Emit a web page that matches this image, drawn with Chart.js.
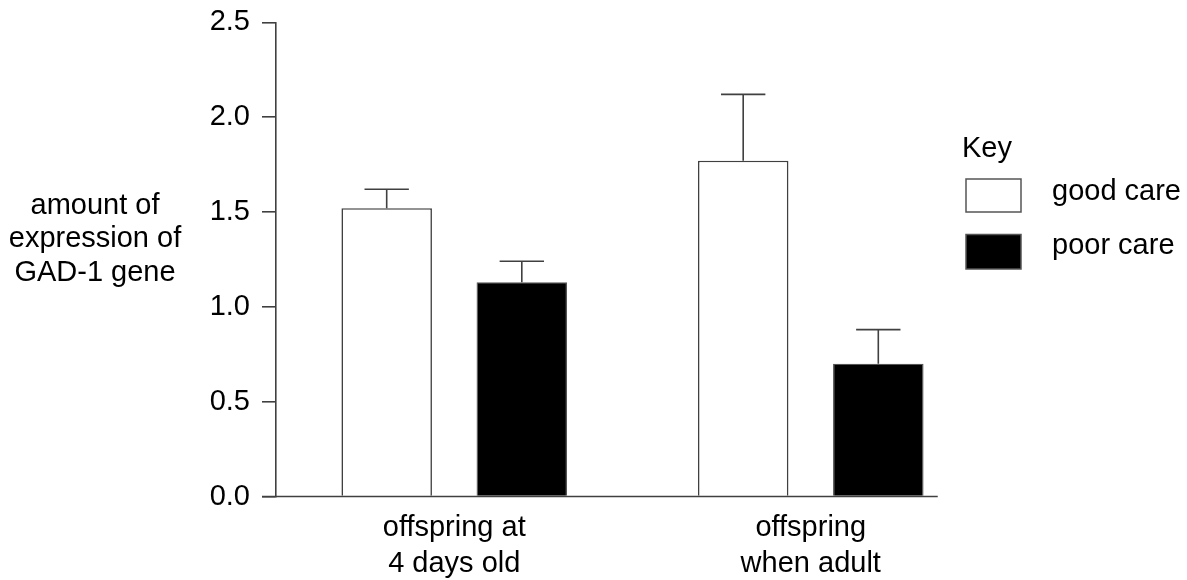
<!DOCTYPE html>
<html>
<head>
<meta charset="utf-8">
<script src="https://cdn.jsdelivr.net/npm/chart.js@4"></script>
<style>
  html, body { margin: 0; padding: 0; background: #fff; }
  #wrap { width: 1187px; height: 580px; }
</style>
</head>
<body>
<div id="wrap"><canvas id="c" width="1187" height="580"></canvas></div>
<script>
// ---- data ----
const categories = [['offspring at', '4 days old'], ['offspring', 'when adult']];
const seriesNames = ['good care', 'poor care'];
const goodCare = [1.52, 1.77];
const poorCare = [1.13, 0.70];
const goodCareErr = [0.10, 0.35];
const poorCareErr = [0.11, 0.18];
const yTicks = [0, 0.5, 1.0, 1.5, 2.0, 2.5];
const yTitleLines = ['amount of', 'expression of', 'GAD-1 gene'];
const legendTitle = 'Key';

const FONT = '"Liberation Sans", Arial, Helvetica, sans-serif';
const FSIZE = 29;
const AXIS = '#404040';

const errorBars = {
  id: 'errorBars',
  afterDatasetsDraw(chart) {
    const ctx = chart.ctx;
    const y = chart.scales.y;
    ctx.save();
    ctx.strokeStyle = AXIS;
    ctx.lineWidth = 1.6;
    chart.data.datasets.forEach((ds, di) => {
      const meta = chart.getDatasetMeta(di);
      meta.data.forEach((bar, i) => {
        const top = y.getPixelForValue(ds.data[i] + ds.errors[i]);
        const cap = bar.width * 0.49;
        ctx.beginPath();
        ctx.moveTo(bar.x, bar.y);
        ctx.lineTo(bar.x, top);
        ctx.moveTo(bar.x - cap / 2, top);
        ctx.lineTo(bar.x + cap / 2, top);
        ctx.stroke();
      });
    });
    ctx.restore();
  }
};

const decorations = {
  id: 'decorations',
  afterDraw(chart) {
    const ctx = chart.ctx;
    const ca = chart.chartArea;
    const x = chart.scales.x;
    ctx.save();
    // x axis line
    ctx.strokeStyle = AXIS;
    ctx.lineWidth = 1.6;
    ctx.beginPath();
    ctx.moveTo(ca.left - 14, ca.bottom);
    ctx.lineTo(x.getPixelForValue(1) + 127, ca.bottom);
    ctx.stroke();

    // y title (horizontal, three lines)
    ctx.fillStyle = '#000';
    ctx.font = FSIZE + 'px ' + FONT;
    ctx.textAlign = 'center';
    ctx.textBaseline = 'alphabetic';
    const base = [213.5, 247, 280.5];
    yTitleLines.forEach((t, i) => ctx.fillText(t, 95, base[i]));

    // legend
    ctx.textAlign = 'left';
    ctx.fillText(legendTitle, 962, 157);
    const ds = chart.data.datasets;
    const boxes = [[966, 179, 55, 33, 200], [966, 234.5, 55, 34.5, 253.5]];
    ds.forEach((d, i) => {
      const b = boxes[i];
      ctx.fillStyle = d.backgroundColor;
      ctx.fillRect(b[0], b[1], b[2], b[3]);
      ctx.strokeStyle = '#555';
      ctx.lineWidth = 1.5;
      ctx.strokeRect(b[0], b[1], b[2], b[3]);
      ctx.fillStyle = '#000';
      ctx.fillText(d.label, 1052, b[4]);
    });
    ctx.restore();
  }
};

new Chart(document.getElementById('c'), {
  type: 'bar',
  data: {
    labels: categories,
    datasets: [
      { label: seriesNames[0], data: goodCare, errors: goodCareErr,
        backgroundColor: '#ffffff', borderColor: AXIS, borderWidth: 1.6 },
      { label: seriesNames[1], data: poorCare, errors: poorCareErr,
        backgroundColor: '#000000', borderColor: '#555555', borderWidth: 1.2 }
    ]
  },
  options: {
    responsive: false,
    animation: false,
    devicePixelRatio: 1,
    layout: { padding: { top: 22.3, right: 198, bottom: 0, left: 0 } },
    datasets: { bar: { barPercentage: 0.67, categoryPercentage: 0.758 } },
    plugins: { legend: { display: false }, tooltip: { enabled: false }, title: { display: false } },
    scales: {
      x: {
        grid: { display: false, drawTicks: false },
        border: { display: false },
        ticks: { color: '#000', padding: 13, font: { family: FONT, size: FSIZE, lineHeight: 1.26 }, maxRotation: 0 },
        afterFit(s) { s.height = 83.5; }
      },
      y: {
        min: 0, max: 2.5,
        grid: { drawOnChartArea: false, color: AXIS, lineWidth: 1.6, tickLength: 14 },
        border: { display: true, color: AXIS, width: 1.6 },
        ticks: {
          color: '#000', padding: 12, font: { family: FONT, size: FSIZE, lineHeight: 0.6 },
          stepSize: 0.5,
          callback: (v) => yTicks.includes(v) ? v.toFixed(1) : ''
        },
        afterFit(s) { s.width = 276; }
      }
    }
  },
  plugins: [errorBars, decorations]
});
</script>
</body>
</html>
